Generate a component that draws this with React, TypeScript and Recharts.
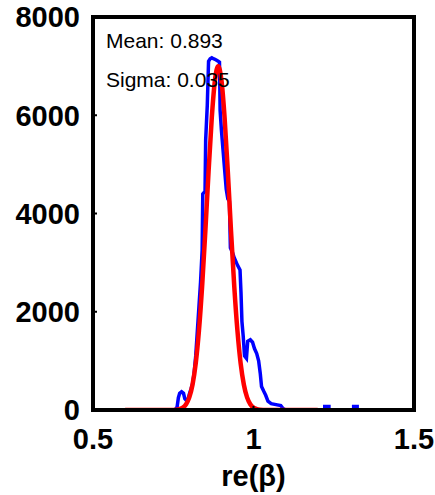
import { Line, LineChart, XAxis, YAxis } from "recharts"

// histogram of re(beta) (blue stairs)
const histX = [
  0.755, 0.762, 0.766, 0.77, 0.776, 0.782, 0.786, 0.79, 0.796, 0.8,
  0.805, 0.81, 0.815, 0.82, 0.825, 0.83, 0.835, 0.84, 0.842, 0.849,
  0.851, 0.856, 0.86, 0.865, 0.87, 0.875, 0.88, 0.885, 0.89, 0.894,
  0.896, 0.9, 0.905, 0.91, 0.915, 0.92, 0.925, 0.928, 0.935, 0.94,
  0.95, 0.958, 0.961, 0.964, 0.968, 0.972, 0.978, 0.982, 0.99, 0.997,
  1.003, 1.01, 1.016, 1.021, 1.025, 1.032, 1.038, 1.045, 1.055, 1.07,
  1.085, 1.092, 1.1, 1.15, 1.222, 1.222, 1.235, 1.235, 1.27, 1.312,
  1.312, 1.323, 1.323,
]
const histCounts = [
  0, 60, 250, 340, 370, 340, 230, 200, 220, 320,
  420, 530, 750, 1100, 1600, 2100, 2600, 3250, 4400, 4450,
  5500, 6200, 7100, 7150, 7170, 7150, 7140, 7120, 7100, 7080,
  6100, 5700, 5300, 4900, 4500, 4300, 4250, 3300, 3200, 3100,
  2950, 2850, 2400, 1800, 1500, 1100, 1050, 1400, 1430, 1380,
  1250, 1150, 1000, 750, 480, 380, 300, 180, 130, 110,
  90, 30, 0, null, 0, 70, 70, 0, null, 0,
  70, 70, 0,
]

// gaussian fit (red)
const fitX = [
  0.6, 0.7, 0.74, 0.76, 0.77, 0.78, 0.79, 0.8, 0.81, 0.82,
  0.83, 0.84, 0.85, 0.86, 0.87, 0.88, 0.89, 0.9, 0.91, 0.92,
  0.93, 0.94, 0.95, 0.96, 0.97, 0.98, 0.99, 1.0, 1.01, 1.02,
  1.04, 1.08, 1.2,
]
const fitCounts = [
  0, 0, 1, 7, 20, 50, 118, 257, 514, 947,
  1611, 2524, 3643, 4850, 5946, 6720, 7000, 6720, 5946, 4850,
  3643, 2524, 1611, 947, 514, 257, 118, 50, 20, 7,
  1, 0, 0,
]

const xTicks = [0.5, 1, 1.5]
const yTicks = [0, 2000, 4000, 6000, 8000]
const xLabel = "re(β)"
const notes = ["Mean: 0.893", "Sigma: 0.035"]

const histData = histX.map((x, i) => ({ x, y: histCounts[i] }))
const fitData = fitX.map((x, i) => ({ x, y: fitCounts[i] }))

const font = "'Liberation Sans', Arial, sans-serif"
const tickFont = { fontSize: 29, fontWeight: 700, fill: "#000", fontFamily: font }
const frame = { stroke: "#000", strokeWidth: 4, strokeLinecap: "square" as const }
const tickStroke = { stroke: "#000", strokeWidth: 2 }

export default function App() {
  return (
    <div style={{ position: "relative", width: 435, height: 495, background: "#fff" }}>
      <style>{"body{margin:0}"}</style>
      <LineChart width={435} height={495} margin={{ top: 16, right: 20, bottom: 0, left: 0 }}>
        <XAxis
          xAxisId="b"
          dataKey="x"
          type="number"
          domain={[0.5, 1.5]}
          ticks={xTicks}
          allowDataOverflow
          height={85}
          tickSize={-4}
          tickMargin={22}
          tick={tickFont}
          axisLine={frame}
          tickLine={tickStroke}
          label={{ value: xLabel, position: "insideBottom", offset: 9, style: tickFont }}
        />
        <XAxis
          xAxisId="t"
          orientation="top"
          type="number"
          domain={[0.5, 1.5]}
          ticks={xTicks}
          allowDataOverflow
          height={1}
          tickSize={-4}
          tick={false}
          axisLine={frame}
          tickLine={tickStroke}
        />
        <YAxis
          yAxisId="l"
          type="number"
          domain={[0, 8000]}
          ticks={yTicks}
          allowDataOverflow
          width={93}
          tickSize={-4}
          tickMargin={17}
          tick={tickFont}
          axisLine={frame}
          tickLine={tickStroke}
        />
        <YAxis
          yAxisId="r"
          orientation="right"
          type="number"
          domain={[0, 8000]}
          ticks={yTicks}
          allowDataOverflow
          width={1}
          tickSize={-4}
          tick={false}
          axisLine={frame}
          tickLine={tickStroke}
        />
        <Line
          xAxisId="b"
          yAxisId="l"
          data={histData}
          dataKey="y"
          type="linear"
          stroke="#0000ff"
          strokeWidth={3.5}
          dot={false}
          connectNulls={false}
          isAnimationActive={false}
        />
        <Line
          xAxisId="b"
          yAxisId="l"
          data={fitData}
          dataKey="y"
          type="monotone"
          stroke="#ff0000"
          strokeWidth={4.5}
          dot={false}
          isAnimationActive={false}
        />
      </LineChart>
      <svg
        width={435}
        height={495}
        style={{ position: "absolute", left: 0, top: 0, pointerEvents: "none" }}
      >
        <text x={106} y={48} fontSize={21} fontFamily={font} fill="#000">
          {notes[0]}
        </text>
        <text x={106} y={87} fontSize={21} fontFamily={font} fill="#000">
          {notes[1]}
        </text>
      </svg>
    </div>
  )
}
